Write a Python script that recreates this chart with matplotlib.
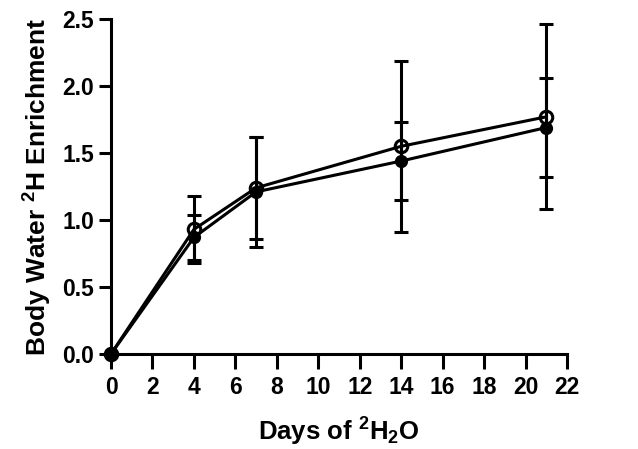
import matplotlib.pyplot as plt

plt.rcParams['font.family'] = 'Liberation Sans'
plt.rcParams['font.weight'] = 'bold'
plt.rcParams['mathtext.fontset'] = 'custom'
plt.rcParams['mathtext.rm'] = 'Liberation Sans:bold'
plt.rcParams['mathtext.default'] = 'rm'

# Days of 2H2O
days = [0, 4, 7, 14, 21]

# open circles
open_mean = [0.0, 0.93, 1.24, 1.55, 1.77]
open_sd = [0.0, 0.25, 0.38, 0.64, 0.69]

# filled circles
filled_mean = [0.0, 0.87, 1.21, 1.44, 1.69]
filled_sd = [0.0, 0.17, 0.41, 0.29, 0.37]

fig = plt.figure(figsize=(6.38, 4.49), dpi=100)
ax = fig.add_axes([111 / 638, 1 - 354 / 449, (567 - 111) / 638, (354 - 19) / 449])

lw = 2.2
ax.errorbar(days, filled_mean, yerr=filled_sd, color='black', lw=lw, elinewidth=lw,
            capsize=4.7, capthick=lw, marker='o', ms=8.5, mfc='black', mec='black',
            clip_on=False, zorder=3)
ax.errorbar(days, open_mean, yerr=open_sd, color='black', lw=lw, elinewidth=lw,
            capsize=4.7, capthick=lw, marker='o', ms=9, mfc='none', mec='black',
            mew=lw, clip_on=False, zorder=4)

ax.set_xlim(0, 22)
ax.set_ylim(0, 2.5)
ax.set_xticks(range(0, 23, 2))
ax.set_yticks([0, 0.5, 1.0, 1.5, 2.0, 2.5])
ax.set_yticklabels(['0.0', '0.5', '1.0', '1.5', '2.0', '2.5'])

for s in ['top', 'right']:
    ax.spines[s].set_visible(False)
for s in ['left', 'bottom']:
    ax.spines[s].set_linewidth(lw)
ax.tick_params(axis='x', width=lw, length=11, labelsize=16.5, pad=5)
ax.tick_params(axis='y', width=lw, length=9, labelsize=16.5, pad=3)

ax.set_xlabel(r'Days of $^{2}$H$_{2}$O', fontsize=18.5, fontweight='bold', labelpad=12)
ax.set_ylabel(r'Body Water $^{2}$H Enrichment', fontsize=19, fontweight='bold', labelpad=6)

fig.savefig('out.png', dpi=100)
